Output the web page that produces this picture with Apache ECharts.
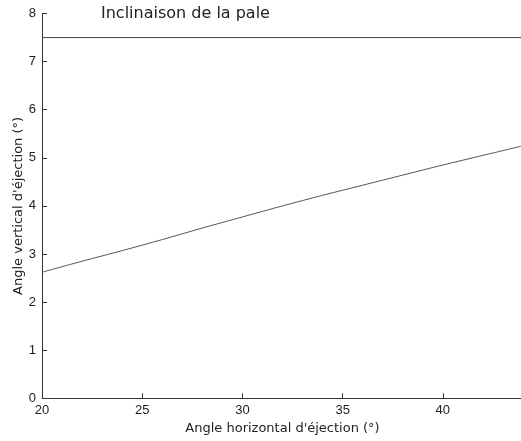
<!DOCTYPE html>
<html>
<head>
<meta charset="utf-8">
<script src="https://cdn.jsdelivr.net/npm/echarts@6/dist/echarts.min.js"></script>
<style>
html,body{margin:0;padding:0;background:#fff;}
#chart{width:521px;height:441px;}
</style>
</head>
<body>
<div id="chart"></div>
<script>
// Data
const titleText = "Inclinaison de la pale";
const xAxisName = "Angle horizontal d'éjection (°)";
const yAxisName = "Angle vertical d'éjection (°)";
const xValues = [20, 22, 24, 26, 28, 30, 32, 34, 36, 38, 40, 42, 44];
const yValues = [2.62, 2.85, 3.07, 3.30, 3.54, 3.77, 4.00, 4.22, 4.43, 4.64, 4.85, 5.05, 5.25];
const bladeX = [20, 44];
const bladeY = [7.5, 7.5];

const chart = echarts.init(document.getElementById('chart'), null, {renderer: 'canvas'});
const axisColor = '#333';
chart.setOption({
  animation: false,
  backgroundColor: '#fff',
  title: {
    text: titleText,
    left: 101, top: 6, padding: 0,
    textStyle: {fontFamily: 'DejaVu Sans', fontSize: 16, fontWeight: 'normal', color: '#222'}
  },
  grid: {left: 42, right: -2, top: 13.5, bottom: 42.7, containLabel: false, outerBoundsMode: 'none'},
  xAxis: {
    type: 'value', min: 20, max: 44, interval: 5,
    name: xAxisName, nameLocation: 'middle', nameGap: 24, nameMoveOverlap: false,
    nameTextStyle: {fontFamily: 'DejaVu Sans', fontSize: 13, color: '#222'},
    axisLine: {show: true, onZero: false, lineStyle: {color: axisColor, width: 1}},
    axisTick: {show: true, inside: true, length: 5, lineStyle: {color: axisColor}},
    axisLabel: {fontFamily: 'Liberation Sans', fontSize: 13, color: '#222', margin: 6, showMaxLabel: false},
    splitLine: {show: false}
  },
  yAxis: {
    type: 'value', min: 0, max: 8, interval: 1,
    name: yAxisName, nameLocation: 'middle', nameGap: 17, nameMoveOverlap: false,
    nameTextStyle: {fontFamily: 'DejaVu Sans', fontSize: 13, color: '#222'},
    axisLine: {show: true, onZero: false, lineStyle: {color: axisColor, width: 1}},
    axisTick: {show: true, inside: true, length: 5, lineStyle: {color: axisColor}},
    axisLabel: {fontFamily: 'Liberation Sans', fontSize: 13, color: '#222', margin: 6},
    splitLine: {show: false}
  },
  series: [
    {
      type: 'line', data: bladeX.map((x, i) => [x, bladeY[i]]),
      symbol: 'none', lineStyle: {color: '#444', width: 1}, silent: true
    },
    {
      type: 'line', data: xValues.map((x, i) => [x, yValues[i]]),
      symbol: 'none', smooth: 0.3, lineStyle: {color: '#555', width: 1}, silent: true
    }
  ]
});
</script>
</body>
</html>
